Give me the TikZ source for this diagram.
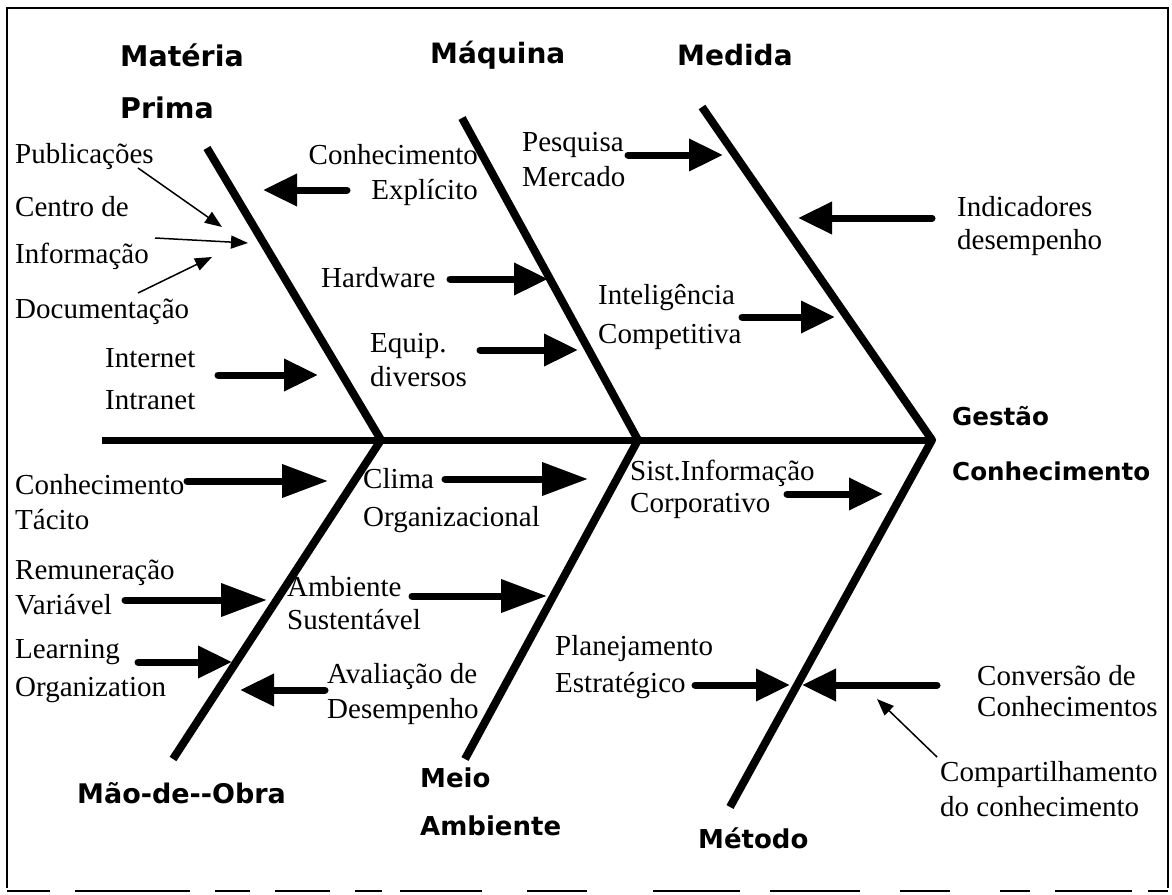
\documentclass[tikz,border=0pt]{standalone}
\usepackage{fontspec}
\setmainfont{Liberation Serif}
\newfontfamily\bsans{DejaVu Sans}
\usetikzlibrary{arrows.meta}
\begin{document}
\begin{tikzpicture}[x=1pt,y=-1pt,
  lbl/.style={font=\fontsize{29}{35}\selectfont, align=left, inner sep=0pt, anchor=west},
  bl/.style={font=\bsans\bfseries\fontsize{28}{52}\selectfont, align=left, inner sep=0pt, anchor=west},
  fatarr/.style={line width=7pt, line cap=round, -{Triangle[length=34pt,width=31pt]}},
  fatlong/.style={line width=7pt, line cap=round, -{Triangle[length=46pt,width=32pt]}},
  thinarr/.style={line width=1.5pt, -{Triangle[length=17pt,width=13pt]}},
  bone/.style={line width=8pt, line join=round},
  spine/.style={line width=7pt},
  frame/.style={line width=2pt}]
\useasboundingbox (0,0) rectangle (1172,894);
\fill[white] (0,0) rectangle (1172,894);
% frame
\draw[frame] (7,888) -- (7,8) -- (1168,8) -- (1168,888);
\foreach \a/\b in {7/50,75/190,215/250,275/330,355/382,400/482,527/587,653/740,770/860,900/950,1000/1030,1055/1132,1148/1168}
  \draw[frame] (\a,891) -- (\b,891);
% skeleton coordinates
\coordinate (S0) at (102,440);
\coordinate (J1) at (381,440);
\coordinate (J2) at (638,440);
\coordinate (J3) at (932,440);
\coordinate (U1) at (207,148);
\coordinate (U2) at (462,118);
\coordinate (U3) at (702,107);
\coordinate (L1) at (173,759);
\coordinate (L2) at (465,759);
\coordinate (L3) at (730,807);
\draw[spine] (S0) -- (J3);
\draw[bone] (U1) -- (J1) -- (L1);
\draw[bone] (U2) -- (J2) -- (L2);
\draw[bone] (U3) -- (J3) -- (L3);
% category labels
\node[bl, font=\bsans\bfseries\fontsize{28.5}{52}\selectfont] (mp) at (120,81) {Matéria\\Prima};
\node[bl] (maq) at (430,55) {Máquina};
\node[bl] (med) at (677,55) {Medida};
\node[bl, font=\bsans\bfseries\fontsize{24.6}{55}\selectfont] (gc) at (952,444) {Gestão\\Conhecimento};
\node[bl, font=\bsans\bfseries\fontsize{27}{52}\selectfont] (mo) at (77,793) {Mão-de-{}-Obra};
\node[bl, font=\bsans\bfseries\fontsize{26}{48}\selectfont] (ma) at (420,802) {Meio\\Ambiente};
\node[bl, font=\bsans\bfseries\fontsize{26}{48}\selectfont] (met) at (698,838) {Método};
% cause labels
\node[lbl] (pub) at (15,157) {Publicações};
\node[lbl] (cen) at (15,233) {Centro de\\[12pt]Informação};
\node[lbl] (doc) at (15,312) {Documentação};
\node[lbl] (inet) at (105,379) {Internet\\[7pt]Intranet};
\node[lbl, align=right, anchor=east] (cex) at (478,175) {Conhecimento\\Explícito};
\node[lbl] (hw) at (321,278) {Hardware};
\node[lbl] (eq) at (370,360) {Equip.\\[-1pt]diversos};
\node[lbl] (pm) at (522,160) {Pesquisa\\Mercado};
\node[lbl] (ic) at (598,317) {Inteligência\\[4pt]Competitiva};
\node[lbl] (ind) at (957,226) {Indicadores\\[-2pt]desempenho};
\node[lbl] (ct) at (15,502) {Conhecimento\\Tácito};
\node[lbl] (rv) at (15,587) {Remuneração\\Variável};
\node[lbl] (lo) at (15,671) {Learning\\[3pt]Organization};
\node[lbl] (co) at (363,501) {Clima\\[3pt]Organizacional};
\node[lbl] (as) at (287,603) {Ambiente\\[-2pt]Sustentável};
\node[lbl] (ad) at (327,694) {Avaliação de\\Desempenho};
\node[lbl] (si) at (630,489) {Sist.Informação\\[-3pt]Corporativo};
\node[lbl] (pe) at (555,667) {Planejamento\\[2pt]Estratégico};
\node[lbl] (cv) at (977,691) {Conversão de\\[-4pt]Conhecimentos};
\node[lbl] (cp) at (940,789) {Compartilhamento\\do conhecimento};
% arrow end points
\coordinate (cexS) at (347,190); \coordinate (cexT) at (263,190);
\coordinate (hwS) at (450,279);  \coordinate (hwT) at (548,279);
\coordinate (eqS) at (480,350);  \coordinate (eqT) at (578,350);
\coordinate (inS) at (218,375);  \coordinate (inT) at (318,375);
\coordinate (pmS) at (628,155);  \coordinate (pmT) at (723,155);
\coordinate (icS) at (742,317);  \coordinate (icT) at (835,317);
\coordinate (indS) at (932,218); \coordinate (indT) at (798,218);
\coordinate (ctS) at (187,481);  \coordinate (ctT) at (328,481);
\coordinate (rvS) at (125,600);  \coordinate (rvT) at (267,600);
\coordinate (loS) at (138,662);  \coordinate (loT) at (232,662);
\coordinate (coS) at (445,479);  \coordinate (coT) at (588,479);
\coordinate (asS) at (412,596);  \coordinate (asT) at (547,596);
\coordinate (adS) at (325,690);  \coordinate (adT) at (240,690);
\coordinate (siS) at (787,494);  \coordinate (siT) at (883,494);
\coordinate (peS) at (695,685);  \coordinate (peT) at (790,685);
\coordinate (cvS) at (937,685);  \coordinate (cvT) at (802,685);
\coordinate (pubS) at (138,168); \coordinate (pubT) at (222,227);
\coordinate (cenS) at (155,238); \coordinate (cenT) at (248,243);
\coordinate (docS) at (138,293); \coordinate (docT) at (212,257);
\coordinate (cpS) at (937,757);  \coordinate (cpT) at (877,699);
% thick arrows
\draw[fatarr] (cexS) -- (cexT);
\draw[fatarr] (hwS) -- (hwT);
\draw[fatarr] (eqS) -- (eqT);
\draw[fatarr] (inS) -- (inT);
\draw[fatarr] (pmS) -- (pmT);
\draw[fatarr] (icS) -- (icT);
\draw[fatarr] (indS) -- (indT);
\draw[fatlong] (ctS) -- (ctT);
\draw[fatlong] (rvS) -- (rvT);
\draw[fatarr] (loS) -- (loT);
\draw[fatlong] (coS) -- (coT);
\draw[fatlong] (asS) -- (asT);
\draw[fatarr] (adS) -- (adT);
\draw[fatarr] (siS) -- (siT);
\draw[fatarr] (peS) -- (peT);
\draw[fatarr] (cvS) -- (cvT);
% thin arrows
\draw[thinarr] (pubS) -- (pubT);
\draw[thinarr] (cenS) -- (cenT);
\draw[thinarr] (docS) -- (docT);
\draw[thinarr] (cpS) -- (cpT);
\end{tikzpicture}
\end{document}
